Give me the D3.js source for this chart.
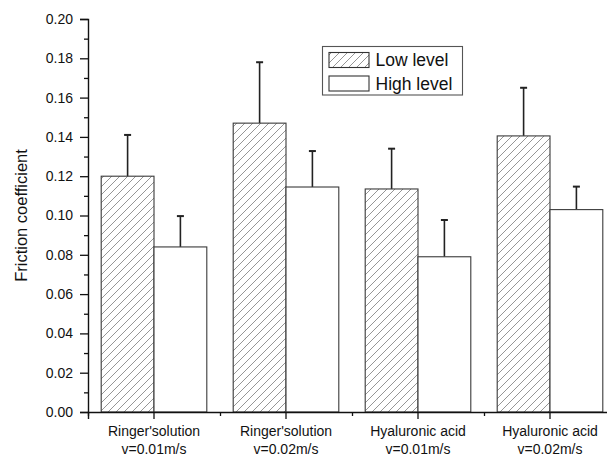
<!DOCTYPE html>
<html>
<head>
<meta charset="utf-8">
<script src="https://cdn.jsdelivr.net/npm/d3@7"></script>
<style>
  html, body { margin: 0; padding: 0; background: #fff; }
  svg { display: block; font-family: "Liberation Sans", Arial, sans-serif; }
</style>
</head>
<body>
<svg id="chart" width="607" height="455"></svg>
<script>
// Friction coefficient per lubricant / sliding speed, two load levels
const categories = [
  ["Ringer'solution", "v=0.01m/s"],
  ["Ringer'solution", "v=0.02m/s"],
  ["Hyaluronic acid", "v=0.01m/s"],
  ["Hyaluronic acid", "v=0.02m/s"]
];
const seriesNames = ["Low level", "High level"];
const lowValues  = [0.120, 0.147, 0.1135, 0.1405];
const lowErrors  = [0.021, 0.031, 0.0205, 0.0245];
const highValues = [0.084, 0.1145, 0.079, 0.103];
const highErrors = [0.0157, 0.0183, 0.0187, 0.0117];
const yTicks = [0, 0.02, 0.04, 0.06, 0.08, 0.10, 0.12, 0.14, 0.16, 0.18, 0.20];
const yMinorTicks = [0.01, 0.03, 0.05, 0.07, 0.09, 0.11, 0.13, 0.15, 0.17, 0.19];

const svg = d3.select("#chart");
const plotLeft = 88, plotRight = 616, plotTop = 19, plotBottom = 412;

const groupKeys = categories.map((c, i) => "g" + i);
const x = d3.scaleBand().domain(groupKeys).range([plotLeft, plotRight])
  .paddingInner(0.2).paddingOuter(0.1);
const xs = d3.scaleBand().domain(seriesNames).range([0, x.bandwidth()]);
const xEdge = d3.scaleLinear().domain([0, categories.length]).range([plotLeft, plotRight]);
const y = d3.scaleLinear().domain([0, 0.2]).range([plotBottom, plotTop]);

// diagonal hatch for the low-level bars
const defs = svg.append("defs");
const pat = defs.append("pattern")
  .attr("id", "hatch").attr("patternUnits", "userSpaceOnUse")
  .attr("width", 8).attr("height", 8);
pat.append("rect").attr("width", 8).attr("height", 8).attr("fill", "#fff");
pat.append("path")
  .attr("d", "M-2,2 L2,-2 M0,8 L8,0 M6,10 L10,6")
  .attr("stroke", "#8a8a8a").attr("stroke-width", 0.9);

const rows = [];
categories.forEach((c, i) => {
  rows.push({ g: groupKeys[i], s: seriesNames[0], v: lowValues[i], e: lowErrors[i] });
  rows.push({ g: groupKeys[i], s: seriesNames[1], v: highValues[i], e: highErrors[i] });
});

const fillFor = s => s === seriesNames[0] ? "url(#hatch)" : "#fff";

// error bars (drawn under the bars so they start at the bar top)
const eb = svg.append("g").attr("stroke", "#222");
eb.selectAll("line.stem").data(rows).join("line")
  .attr("class", "stem")
  .attr("x1", d => x(d.g) + xs(d.s) + xs.bandwidth() / 2)
  .attr("x2", d => x(d.g) + xs(d.s) + xs.bandwidth() / 2)
  .attr("y1", d => y(d.v)).attr("y2", d => y(d.v + d.e))
  .attr("stroke-width", 1.6);
eb.selectAll("line.cap").data(rows).join("line")
  .attr("class", "cap")
  .attr("x1", d => x(d.g) + xs(d.s) + xs.bandwidth() / 2 - 3.5)
  .attr("x2", d => x(d.g) + xs(d.s) + xs.bandwidth() / 2 + 3.5)
  .attr("y1", d => y(d.v + d.e)).attr("y2", d => y(d.v + d.e))
  .attr("stroke-width", 2);

// bars
svg.append("g").selectAll("rect").data(rows).join("rect")
  .attr("x", d => x(d.g) + xs(d.s))
  .attr("y", d => y(d.v))
  .attr("width", xs.bandwidth())
  .attr("height", d => y(0) - y(d.v))
  .attr("fill", d => fillFor(d.s))
  .attr("stroke", "#3a3a3a").attr("stroke-width", 1.1);

// y axis
const yAxis = svg.append("g").attr("transform", `translate(${plotLeft},0)`)
  .call(d3.axisLeft(y).tickValues(yTicks).tickSize(8).tickPadding(7)
    .tickFormat(d3.format(".2f")));
svg.append("g").attr("transform", `translate(${plotLeft},0)`)
  .call(d3.axisLeft(y).tickValues(yMinorTicks).tickSize(4).tickFormat(""))
  .call(g => g.select(".domain").remove());

// x axis
const xAxis = svg.append("g").attr("transform", `translate(0,${plotBottom})`)
  .call(d3.axisBottom(x).tickSize(7).tickFormat(""));
svg.append("g").attr("transform", `translate(0,${plotBottom})`)
  .call(d3.axisBottom(xEdge).tickValues(d3.range(categories.length)).tickSize(4).tickFormat(""))
  .call(g => g.select(".domain").remove());

svg.selectAll(".domain").attr("stroke", "#111").attr("stroke-width", 1.4);
svg.selectAll(".tick line").attr("stroke", "#111").attr("stroke-width", 1.3);
yAxis.selectAll("text").attr("font-size", 14).attr("fill", "#111")
  .attr("font-family", "'Liberation Sans', Arial, sans-serif");

// two-line category labels
const xl = svg.append("g").attr("font-size", 14).attr("fill", "#111")
  .attr("text-anchor", "middle");
categories.forEach((c, i) => {
  const cx = x(groupKeys[i]) + x.bandwidth() / 2;
  const t = xl.append("text").attr("x", cx).attr("y", 435.5);
  t.append("tspan").attr("x", cx).text(c[0]);
  t.append("tspan").attr("x", cx).attr("dy", 18.5).text(c[1]);
});

// y axis title
svg.append("text")
  .attr("transform", `translate(26.5,${(plotTop + plotBottom) / 2}) rotate(-90)`)
  .attr("text-anchor", "middle").attr("font-size", 16.5).attr("fill", "#111")
  .text("Friction coefficient");

// legend
const lg = svg.append("g");
lg.append("rect").attr("x", 322.5).attr("y", 46.5).attr("width", 140).attr("height", 48.5)
  .attr("fill", "#fff").attr("stroke", "#555").attr("stroke-width", 1.1);
seriesNames.forEach((s, i) => {
  const yy = 52.5 + i * 23.5;
  lg.append("rect").attr("x", 329).attr("y", yy).attr("width", 40).attr("height", 15)
    .attr("fill", fillFor(s)).attr("stroke", "#333").attr("stroke-width", 1.1);
  lg.append("text").attr("x", 375.5).attr("y", yy + 13.5)
    .attr("font-size", 17.5).attr("fill", "#111").text(s);
});
</script>
</body>
</html>
